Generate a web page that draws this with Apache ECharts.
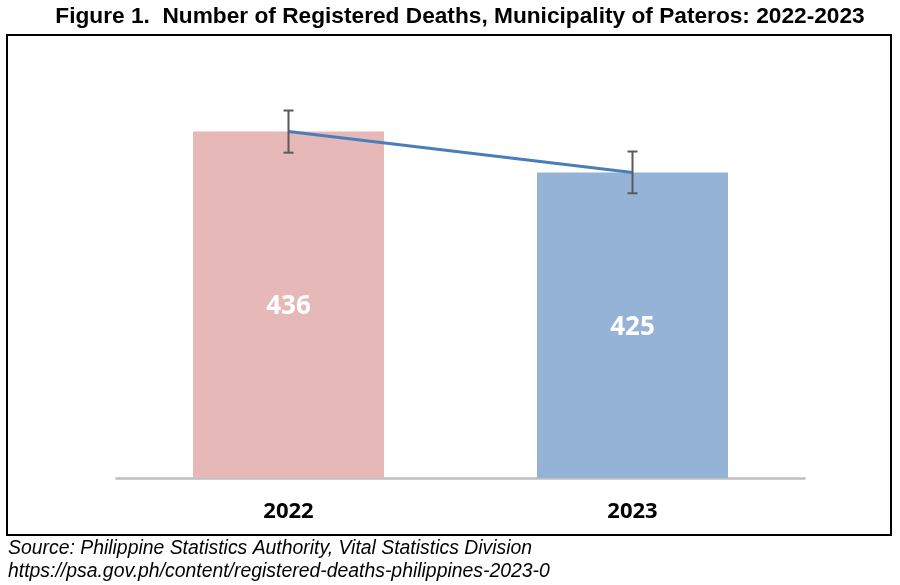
<!DOCTYPE html>
<html>
<head>
<meta charset="utf-8">
<script src="https://cdn.jsdelivr.net/npm/echarts@6/dist/echarts.min.js"></script>
<style>
html,body{margin:0;padding:0;background:#fff;}
#chart{width:900px;height:585px;}
</style>
</head>
<body>
<div id="chart"></div>
<script>
const years = ['2022', '2023'];
const deaths = [436, 425];
const errLow = [430.3, 419.4];
const errHigh = [441.6, 430.6];
const barColors = ['#E6B9B8', '#95B3D7'];
const titleText = 'Figure 1.  Number of Registered Deaths, Municipality of Pateros: 2022-2023';
const sourceLines = ['Source: Philippine Statistics Authority, Vital Statistics Division',
  'https://psa.gov.ph/content/registered-deaths-philippines-2023-0'];

const chart = echarts.init(document.getElementById('chart'), null, {renderer: 'canvas'});

const errData = years.map((y, i) => [i, errLow[i], errHigh[i]]);

chart.setOption({
  animation: false,
  backgroundColor: '#fff',
  graphic: [
    {type: 'text', x: 460, y: 5,
     style: {text: titleText, font: 'bold 22.7px "Liberation Sans"', fill: '#000', textAlign: 'center'}},
    {type: 'rect', shape: {x: 7, y: 35, width: 884, height: 500},
     style: {fill: null, stroke: '#000', lineWidth: 2}, silent: true},
    {type: 'text', left: 8, top: 537,
     style: {text: sourceLines.join('\n'), font: 'italic 19.4px "Liberation Sans"', fill: '#000', lineHeight: 23}}
  ],
  grid: {left: 116.5, width: 688, top: 49.4, height: 428.6, containLabel: false},
  xAxis: {
    type: 'category',
    data: years,
    axisTick: {show: false},
    axisLine: {lineStyle: {color: '#BFBFBF', width: 2.5}},
    axisLabel: {margin: 23, fontFamily: 'Open Sans', fontWeight: 'bold', fontSize: 22, color: '#000'}
  },
  yAxis: {
    type: 'value', min: 343, max: 458, show: false,
    splitLine: {show: false}
  },
  series: [
    {
      type: 'bar',
      data: deaths.map((v, i) => ({value: v, itemStyle: {color: barColors[i]}})),
      barWidth: 191,
      label: {show: true, position: 'inside', offset: [0, 2], fontFamily: 'Open Sans', fontWeight: 'bold', fontSize: 26, color: '#fff'},
      z: 2
    },
    {
      type: 'line',
      data: deaths,
      symbol: 'none',
      lineStyle: {color: '#4A7EBB', width: 3},
      z: 3
    },
    {
      type: 'custom',
      data: errData,
      z: 4,
      renderItem: function (params, api) {
        const x = api.value(0);
        const lo = api.coord([x, api.value(1)]);
        const hi = api.coord([x, api.value(2)]);
        const hw = 5;
        const style = {stroke: '#595959', lineWidth: 2};
        return {
          type: 'group',
          children: [
            {type: 'line', shape: {x1: lo[0], y1: lo[1], x2: hi[0], y2: hi[1]}, style: style},
            {type: 'line', shape: {x1: lo[0] - hw, y1: lo[1], x2: lo[0] + hw, y2: lo[1]}, style: style},
            {type: 'line', shape: {x1: hi[0] - hw, y1: hi[1], x2: hi[0] + hw, y2: hi[1]}, style: style}
          ]
        };
      }
    }
  ]
});
</script>
</body>
</html>
